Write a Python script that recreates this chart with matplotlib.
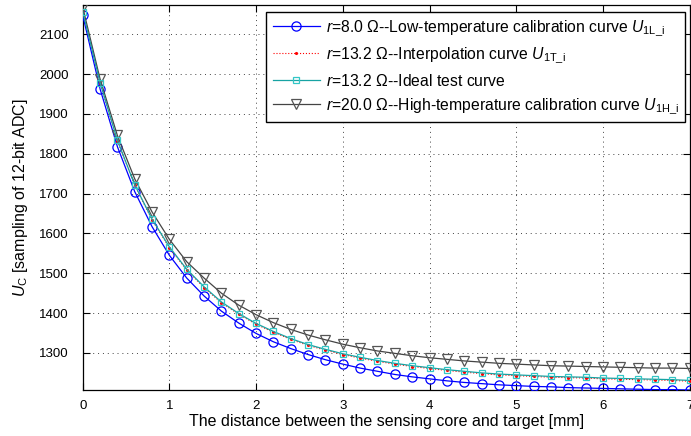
import matplotlib
matplotlib.use("Agg")
import matplotlib.pyplot as plt

plt.rcParams['font.family'] = ['Liberation Sans', 'DejaVu Sans']
plt.rcParams['mathtext.fontset'] = 'custom'
plt.rcParams['mathtext.rm'] = 'Liberation Sans'
plt.rcParams['mathtext.it'] = 'Liberation Sans:italic'

distance = [0.0, 0.2, 0.4, 0.6, 0.8, 1.0, 1.2, 1.4, 1.6, 1.8, 2.0, 2.2, 2.4, 2.6, 2.8,
            3.0, 3.2, 3.4, 3.6, 3.8, 4.0, 4.2, 4.4, 4.6, 4.8, 5.0, 5.2, 5.4, 5.6, 5.8,
            6.0, 6.2, 6.4, 6.6, 6.8, 7.0]

low_cal = [2148, 1963, 1818, 1705, 1617, 1545, 1488, 1443, 1405, 1375, 1349, 1328,
           1311, 1296, 1283, 1272, 1262, 1254, 1246, 1240, 1235, 1230, 1226, 1223,
           1220, 1218, 1216, 1215, 1213, 1212, 1211, 1210, 1209, 1208, 1208, 1207]

ideal = [2157, 1979, 1834, 1722, 1636, 1566, 1510, 1466, 1428, 1399, 1374, 1354,
         1336, 1321, 1309, 1298, 1289, 1281, 1274, 1268, 1263, 1258, 1254, 1250,
         1247, 1245, 1243, 1241, 1240, 1239, 1237, 1236, 1235, 1234, 1233, 1231]

interp = [2160, 1978, 1833, 1721, 1634, 1564, 1508, 1464, 1426, 1397, 1372, 1352,
          1334, 1319, 1307, 1296, 1287, 1279, 1272, 1266, 1261, 1256, 1252, 1248,
          1245, 1243, 1241, 1239, 1238, 1237, 1235, 1234, 1233, 1232, 1231, 1229]

high_cal = [2168, 1988, 1846, 1737, 1654, 1585, 1529, 1488, 1450, 1420, 1396, 1376,
            1359, 1345, 1333, 1322, 1313, 1305, 1299, 1293, 1288, 1284, 1280, 1277,
            1274, 1272, 1270, 1268, 1267, 1266, 1265, 1264, 1263, 1262, 1262, 1261]

labels = [r'$\it{r}$=8.0 $\Omega$--Low-temperature calibration curve $\it{U}_{\rm 1L\_i}$',
          r'$\it{r}$=13.2 $\Omega$--Interpolation curve $\it{U}_{\rm 1T\_i}$',
          r'$\it{r}$=13.2 $\Omega$--Ideal test curve',
          r'$\it{r}$=20.0 $\Omega$--High-temperature calibration curve $\it{U}_{\rm 1H\_i}$']

fig = plt.figure(figsize=(6.91, 4.36), dpi=100)
ax = fig.add_axes([0.1197, 0.1055, 0.8783, 0.8825])

ax.plot(distance, low_cal, color='#0000ff', lw=0.9, marker='o', ms=6.6,
        mfc='none', mec='#0000ff', mew=0.9, label=labels[0], zorder=3)
ax.plot(distance, interp, color='#ff0000', lw=0.8, ls=':', marker='.', ms=2.5,
        label=labels[1], zorder=3)
ax.plot(distance, ideal, color='#17a3a3', lw=0.9, marker='s', ms=5.0,
        mfc='none', mec='#33c6c6', mew=0.9, label=labels[2], zorder=4)
ax.plot(distance, high_cal, color='#444444', lw=0.9, marker='v', ms=7.0,
        mfc='none', mec='#555555', mew=0.9, label=labels[3], zorder=3)

ax.set_xlim(0, 7)
ax.set_ylim(1207, 2173)
ax.set_xticks([0, 1, 2, 3, 4, 5, 6, 7])
ax.set_yticks([1300, 1400, 1500, 1600, 1700, 1800, 1900, 2000, 2100])
ax.tick_params(direction='in', top=True, right=True, labelsize=9.5, length=5, width=0.8)
ax.tick_params(axis='x', pad=7)
ax.tick_params(axis='y', pad=10)
ax.grid(True, color='#444444', ls=(0, (1, 4)), lw=0.7)
for s in ax.spines.values():
    s.set_linewidth(0.9)

ax.set_xlabel('The distance between the sensing core and target [mm]', fontsize=11.5)
ax.set_ylabel(r'$\it{U}_{\rm C}$ [sampling of 12-bit ADC]', fontsize=11.5)
ax.xaxis.set_label_coords(0.5, -0.062)
ax.yaxis.set_label_coords(-0.087, 0.5)

leg = ax.legend(loc='upper right', bbox_to_anchor=(0.993, 0.982), fontsize=11.3,
                frameon=True, fancybox=False, edgecolor='black', framealpha=1,
                handlelength=3.0, borderpad=0.4, labelspacing=0.48, handletextpad=0.4,
                borderaxespad=0.0)
leg.get_frame().set_linewidth(1.0)

fig.savefig('out.png', dpi=100)
